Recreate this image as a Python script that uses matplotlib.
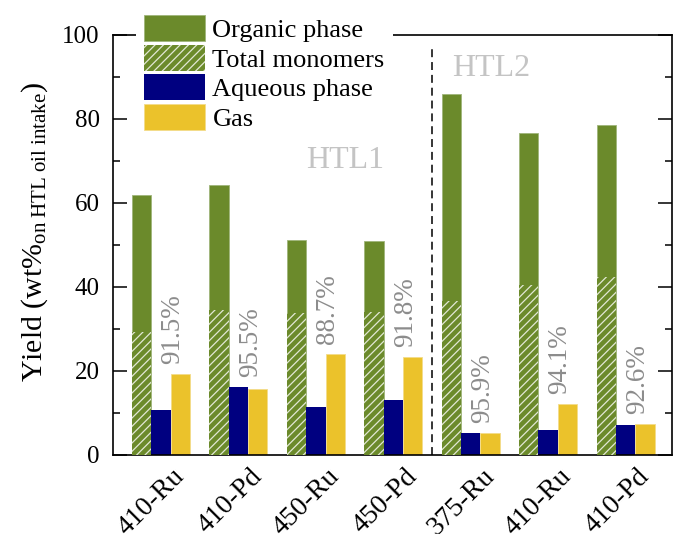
import matplotlib
matplotlib.use("Agg")
import matplotlib.pyplot as plt
import numpy as np

plt.rcParams['font.family'] = ['Liberation Serif', 'DejaVu Serif']
plt.rcParams['mathtext.fontset'] = 'custom'
plt.rcParams['mathtext.rm'] = 'Liberation Serif'
plt.rcParams['mathtext.it'] = 'Liberation Serif:italic'
plt.rcParams['hatch.linewidth'] = 0.9

# Yields in wt% on HTL oil intake
samples = ['410-Ru', '410-Pd', '450-Ru', '450-Pd', '375-Ru', '410-Ru', '410-Pd']
organic = [61.8, 64.2, 51.1, 50.8, 85.8, 76.5, 78.4]
monomers = [29.2, 34.4, 33.6, 33.9, 36.6, 40.3, 42.2]
aqueous = [10.6, 16.0, 11.3, 13.0, 5.2, 5.8, 7.0]
gas = [19.2, 15.6, 23.9, 23.2, 5.2, 12.0, 7.3]
mass_balance = ['91.5%', '95.5%', '88.7%', '91.8%', '95.9%', '94.1%', '92.6%']

green = '#6b8a2b'
navy = '#000080'
yellow = '#ebc22b'

fig = plt.figure(figsize=(6.75, 5.34), dpi=100)
ax = fig.add_axes([113 / 675, 1 - 454.5 / 534, (672 - 113) / 675, 420 / 534])

x = np.arange(len(samples))
w = 0.25

b_org = ax.bar(x - w, organic, width=w, color=green, edgecolor='#9fb57a', linewidth=0.6,
               label='Organic phase', zorder=2)
b_mon = ax.bar(x - w, monomers, width=w, color=green, edgecolor=(1, 1, 1, 0.8), linewidth=0,
               hatch='////', label='Total monomers', zorder=3)
b_aq = ax.bar(x, aqueous, width=w, color=navy, linewidth=0, label='Aqueous phase', zorder=2)
b_gas = ax.bar(x + w, gas, width=w, color=yellow, edgecolor='#f3dc8a', linewidth=0.6,
               label='Gas', zorder=2)

# mass balance closure above each group
for xi, a, g, lab in zip(x, aqueous, gas, mass_balance):
    ax.text(xi + w / 2 + 0.03, max(a, g) + 2.4, lab, rotation=90, ha='center', va='bottom',
            color='#8c8c8c', fontsize=19.5)

# separator between the two HTL stages
ax.plot([3.5, 3.5], [0, 97.5], color='black', lw=1.1, ls=(0, (5.2, 3.2)), zorder=4)
ax.text(2.38, 70.1, 'HTL1', ha='center', va='center', color='#c4c4c4', fontsize=23)
ax.text(4.26, 91.8, 'HTL2', ha='center', va='center', color='#c4c4c4', fontsize=23)

ax.set_xlim(-0.62, 6.60)
ax.set_ylim(0, 100)
ax.set_yticks([0, 20, 40, 60, 80, 100])
ax.set_yticks([10, 30, 50, 70, 90], minor=True)
ax.set_xticks(x + 0.37)
ax.set_xticklabels(samples, rotation=45, ha='right', fontsize=20)
ax.tick_params(axis='x', length=0, pad=6.5)
ax.tick_params(axis='y', which='major', direction='in', length=10, width=1.1,
               right=True, labelsize=18, pad=9.6)
ax.tick_params(axis='y', which='minor', direction='in', length=5, width=1.1, right=True)
for s in ax.spines.values():
    s.set_linewidth(1.2)

ax.set_ylabel(r'Yield (wt%$_{\mathrm{on\ HTL\ oil\ intake}}$)', fontsize=21.5)
ax.yaxis.set_label_coords(-0.113, 0.53)

leg = ax.legend(handles=[b_org, b_mon, b_aq, b_gas], loc='upper left',
                bbox_to_anchor=(0.041, 1.0655), fontsize=19, frameon=True, fancybox=False,
                framealpha=1, edgecolor='none', facecolor='white', handlelength=2.3,
                handleheight=1.15, labelspacing=0.1, handletextpad=0.3, borderpad=0.3,
                borderaxespad=0)
leg.set_zorder(10)

fig.savefig('out.png', dpi=100)
